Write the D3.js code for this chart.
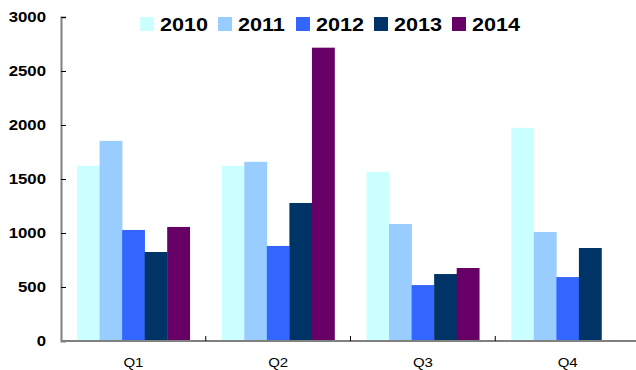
<!DOCTYPE html>
<html>
<head>
<meta charset="utf-8">
<script src="https://cdn.jsdelivr.net/npm/d3@7"></script>
<style>
  body { margin: 0; background: #fff; }
  svg { display: block; }
</style>
</head>
<body>
<div id="chart"></div>
<script>
// chart data
const quarters = ["Q1", "Q2", "Q3", "Q4"];
const years = ["2010", "2011", "2012", "2013", "2014"];
const colors = ["#CCFFFF", "#99CCFF", "#3366FF", "#003366", "#660066"];
const v2010 = [1622, 1622, 1566, 1974];
const v2011 = [1853, 1659, 1083, 1009];
const v2012 = [1028, 880, 518, 592];
const v2013 = [824, 1278, 620, 861];
const v2014 = [1056, 2716, 676, null];
const yTicks = [0, 500, 1000, 1500, 2000, 2500, 3000];

const width = 636;
const height = 370;
// plot area edges
const plotLeft = 61, plotRight = 640, plotTop = 17, plotBottom = 341;
// text in the original is drawn a bit wide
const stretch = 1.2;
const fontFamily = "'Liberation Sans', Arial, sans-serif";

const seriesValues = [v2010, v2011, v2012, v2013, v2014];

const svg = d3.select("#chart")
    .append("svg")
    .attr("width", width)
    .attr("height", height);

// scales
const xScale = d3.scaleBand()
    .domain(quarters)
    .range([plotLeft, plotRight]);

const xInner = d3.scaleBand()
    .domain(years)
    .range([0, xScale.bandwidth()])
    .paddingOuter(0.71);

const yScale = d3.scaleLinear()
    .domain([0, 3000])
    .range([plotBottom, plotTop]);

// bars
const rows = [];
quarters.forEach((q, i) => {
    years.forEach((y, j) => {
        const v = seriesValues[j][i];
        if (v != null) rows.push({ q: q, year: y, value: v, color: colors[j] });
    });
});

svg.append("g").attr("id", "bars")
    .selectAll("rect")
    .data(rows)
    .enter()
    .append("rect")
    .attr("x", d => xScale(d.q) + xInner(d.year))
    .attr("y", d => yScale(d.value))
    .attr("width", xInner.bandwidth() + 0.3)
    .attr("height", d => plotBottom - yScale(d.value))
    .attr("fill", d => d.color);

// y axis
const yAxis = d3.axisLeft(yScale)
    .tickValues(yTicks)
    .tickFormat(d3.format("d"))
    .tickSize(-5);

const yg = svg.append("g")
    .attr("transform", "translate(" + plotLeft + ",0)")
    .call(yAxis);
yg.select(".domain").attr("stroke", "#808080").attr("stroke-width", 2);
yg.selectAll(".tick line").attr("stroke", "#000");
yg.selectAll("text")
    .attr("x", -15 / stretch)
    .attr("transform", "scale(" + stretch + ",1)")
    .attr("fill", "#000")
    .style("font-family", fontFamily)
    .style("font-size", "14px")
    .style("font-weight", "bold");

// x axis
svg.append("line")
    .attr("x1", plotLeft).attr("x2", plotRight)
    .attr("y1", plotBottom).attr("y2", plotBottom)
    .attr("stroke", "#808080")
    .attr("stroke-width", 2);

svg.append("g").selectAll("line")
    .data(quarters.slice(1))
    .enter()
    .append("line")
    .attr("x1", d => xScale(d)).attr("x2", d => xScale(d))
    .attr("y1", plotBottom).attr("y2", plotBottom - 5)
    .attr("stroke", "#000");

svg.append("g").selectAll("text")
    .data(quarters)
    .enter()
    .append("text")
    .attr("transform", d => "translate(" + (xScale(d) + xScale.bandwidth() / 2) + ",367) scale(" + stretch + ",1)")
    .attr("text-anchor", "middle")
    .style("font-family", fontFamily)
    .style("font-size", "12.5px")
    .text(d => d);

// legend
const legend = svg.append("g").attr("id", "legend")
    .selectAll("g")
    .data(years)
    .enter()
    .append("g")
    .attr("transform", (d, i) => "translate(" + (140 + i * 78) + ",17)");

legend.append("rect")
    .attr("width", 14)
    .attr("height", 14)
    .attr("fill", (d, i) => colors[i]);

legend.append("text")
    .attr("transform", "translate(20,13.5) scale(" + stretch + ",1)")
    .style("font-family", fontFamily)
    .style("font-size", "18px")
    .style("font-weight", "bold")
    .text(d => d);
</script>
</body>
</html>
